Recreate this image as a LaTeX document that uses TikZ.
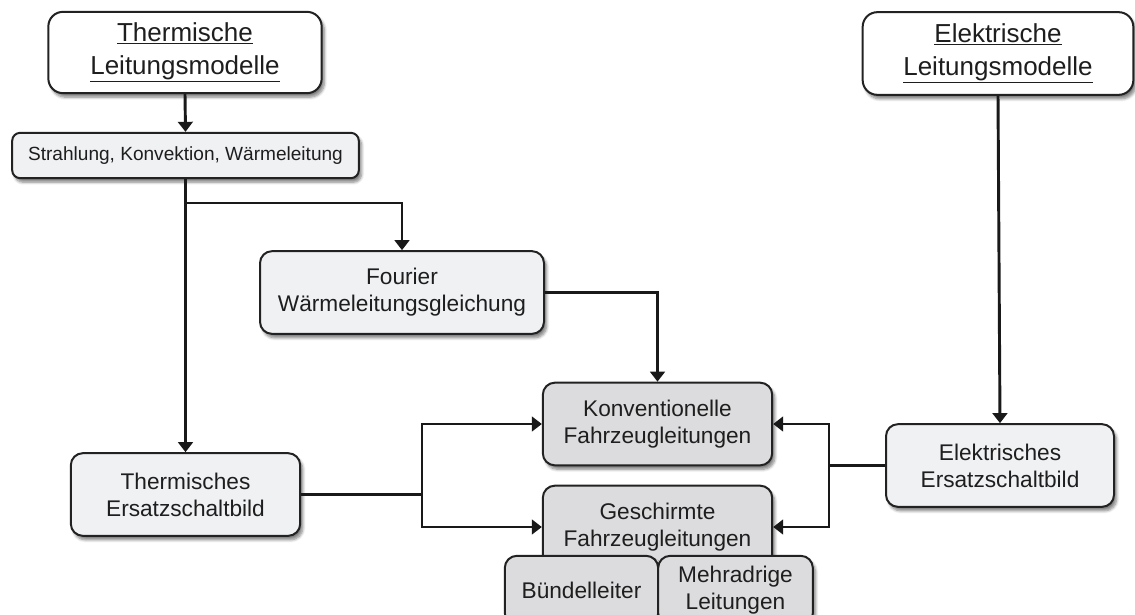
\documentclass[tikz,border=0pt]{standalone}
\usepackage{fontspec}
\setmainfont{Liberation Sans}
\usetikzlibrary{arrows.meta,shadows.blur}

\definecolor{boxline}{HTML}{222222}
\definecolor{lightfill}{HTML}{F0F1F3}
\definecolor{darkfill}{HTML}{DCDCDE}
\definecolor{inktext}{HTML}{1E1E1E}

\tikzset{
  box/.style={draw=boxline, line width=1.5pt, rounded corners=9pt, align=center,
    inner sep=0pt, fill=lightfill, text=inktext,
    blur shadow={shadow xshift=2pt, shadow yshift=-3pt, shadow blur steps=6, shadow opacity=50}},
  topbox/.style={box, fill=white, rounded corners=11pt,
    font=\fontsize{19.5}{24.7}\selectfont},
  midbox/.style={box, font=\fontsize{17}{20.3}\selectfont},
  cablebox/.style={midbox, fill=darkfill},
  thinbox/.style={box, rounded corners=6pt, font=\fontsize{14.3}{17}\selectfont},
  conn/.style={line width=2.2pt, draw=black!90},
  arr/.style={conn, -{Triangle[length=7.5pt,width=11pt]}}
}

\begin{document}
\begin{tikzpicture}[x=0.75pt, y=-0.75pt]
  \useasboundingbox (0,0) rectangle (1135,614);

  % upper model boxes
  \node[topbox, minimum width=205pt, minimum height=61pt] (thermod) at (185,52.5)
    {\underline{Thermische}\\\underline{Leitungsmodelle}};
  \node[topbox, minimum width=203pt, minimum height=62pt] (elmod) at (998,53.5)
    {\underline{Elektrische}\\\underline{Leitungsmodelle}};

  % heat transfer mechanisms
  \node[thinbox, minimum width=260pt, minimum height=34pt] (mech) at (185.5,155.5)
    {Strahlung, Konvektion, Wärmeleitung};

  \node[midbox, minimum width=213pt, minimum height=62pt] (fourier) at (402,292.5)
    {Fourier\\Wärmeleitungsgleichung};

  \node[midbox, minimum width=172pt, minimum height=62pt] (thesb) at (185.5,494.5)
    {Thermisches\\Ersatzschaltbild};
  \node[midbox, minimum width=171pt, minimum height=62pt] (elesb) at (1000,465.5)
    {Elektrisches\\Ersatzschaltbild};

  % cable types
  \node[cablebox, minimum width=172pt, minimum height=62pt] (konv) at (657.5,424)
    {Konventionelle\\Fahrzeugleitungen};
  \node[cablebox, minimum width=172pt, minimum height=62pt] (gesch) at (657.5,527)
    {Geschirmte\\Fahrzeugleitungen};
  \node[cablebox, minimum width=115pt, minimum height=52pt] (buendel) at (581.5,590.5)
    {Bündelleiter};
  \node[cablebox, minimum width=116pt, minimum height=52pt] (mehr) at (735.5,590.5)
    {Mehradrige\\Leitungen};

  % junction points
  \coordinate (split) at (185,203);
  \coordinate (jl) at (422,494.5);
  \coordinate (jr) at (829,465.5);

  % connectors
  \draw[arr] (thermod.south) -- (mech.north);
  \draw[arr] (mech.south) -- (thesb.north);
  \draw[arr] (split) -| (fourier.north);
  \draw[arr] (fourier.east) -| (konv.north);
  \draw[conn] (thesb.east) -- (jl);
  \draw[arr] (jl) |- (konv.west);
  \draw[arr] (jl) |- (gesch.west);
  \draw[arr] (elmod.south) -- (elesb.north);
  \draw[conn] (elesb.west) -- (jr);
  \draw[arr] (jr) |- (konv.east);
  \draw[arr] (jr) |- (gesch.east);
\end{tikzpicture}
\end{document}
